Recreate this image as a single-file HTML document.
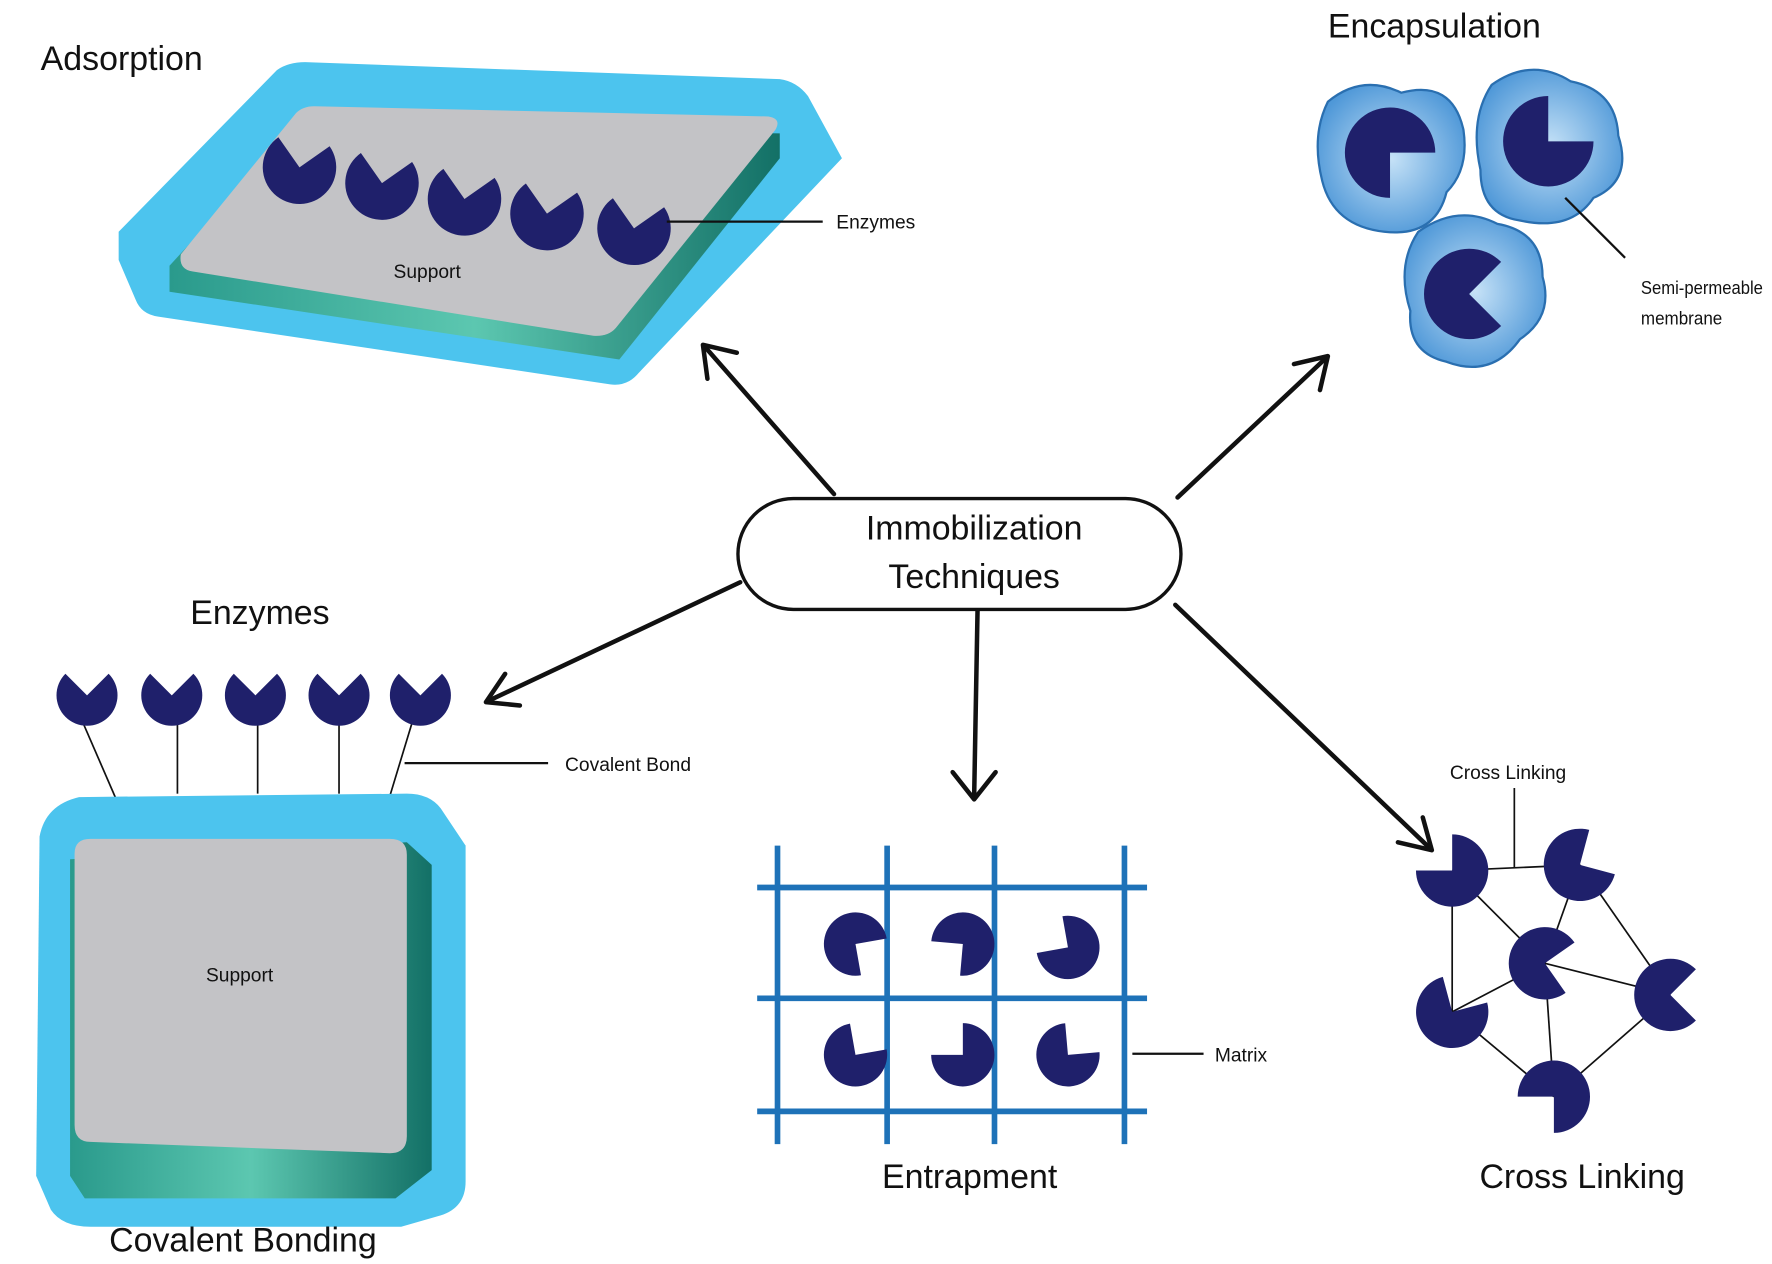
<!DOCTYPE html>
<html><head><meta charset="utf-8"><style>
html,body{margin:0;padding:0;background:#fff;}
svg{display:block;}
text{font-family:"Liberation Sans",sans-serif;fill:#111;}
.big{font-size:30px;}
.sm{font-size:17px;}
</style></head><body>
<svg width="1772" height="1264" viewBox="0 0 1568 1118" preserveAspectRatio="none" xmlns="http://www.w3.org/2000/svg">
<defs>
<path id="pac" d="M0,0 L17.7,-17.7 A25,25 0 1,1 -17.7,-17.7Z" fill="#1f206b"/>
<radialGradient id="blob" cx="0.5" cy="0.5" r="0.55"><stop offset="0" stop-color="#c6e2f7"/><stop offset="1" stop-color="#4f98d8"/></radialGradient>
<linearGradient id="side" x1="0" y1="0" x2="1" y2="0"><stop offset="0" stop-color="#2a9a8c"/><stop offset="0.5" stop-color="#5cc7b0"/><stop offset="1" stop-color="#137066"/></linearGradient>
</defs>

<!-- Adsorption -->
<text class="big" x="36" y="62">Adsorption</text>
<path d="M105,205 L245,62 Q255,55 270,55 L690,70 Q705,72 715,85 L745,140 L565,330 Q555,342 540,340 L140,280 Q125,278 120,265 L105,230Z" fill="#4cc4ee"/>
<path d="M150,235 L265,110 L690,118 L690,140 L548,318 L150,258Z" fill="url(#side)"/>
<path d="M160,225 L262,100 Q268,94 278,94 L680,103 Q692,105 686,115 L545,290 Q538,298 525,297 L170,240 Q158,238 160,225Z" fill="#c3c3c6"/>
<text class="sm" x="378" y="246" text-anchor="middle">Support</text>
<g transform="translate(265,148) rotate(10) scale(1.3)"><use href="#pac"/></g>
<g transform="translate(338,162) rotate(10) scale(1.3)"><use href="#pac"/></g>
<g transform="translate(411,176) rotate(10) scale(1.3)"><use href="#pac"/></g>
<g transform="translate(484,189) rotate(10) scale(1.3)"><use href="#pac"/></g>
<g transform="translate(561,202) rotate(10) scale(1.3)"><use href="#pac"/></g>
<line x1="590" y1="196" x2="728" y2="196" stroke="#111" stroke-width="2"/>
<text class="sm" x="740" y="202">Enzymes</text>

<!-- Encapsulation -->
<text class="big" x="1175" y="33">Encapsulation</text>
<g stroke="#2a6fb0" stroke-width="2" fill="url(#blob)">
<path d="M1175,90 Q1205,65 1240,82 Q1285,70 1295,115 Q1300,150 1280,170 Q1270,210 1225,205 Q1180,200 1170,160 Q1160,120 1175,90Z"/>
<path d="M1320,75 Q1355,50 1390,72 Q1430,80 1432,120 Q1445,160 1410,175 Q1390,205 1345,195 Q1310,190 1310,150 Q1300,105 1320,75Z"/>
<path d="M1255,205 Q1290,180 1325,198 Q1365,205 1365,245 Q1375,280 1345,300 Q1320,335 1280,320 Q1245,312 1248,275 Q1235,235 1255,205Z"/>
</g>
<g transform="translate(1230,135) rotate(135) scale(1.6)"><use href="#pac"/></g>
<g transform="translate(1370,125) rotate(45) scale(1.6)"><use href="#pac"/></g>
<g transform="translate(1300,260) rotate(90) scale(1.6)"><use href="#pac"/></g>
<line x1="1385" y1="175" x2="1438" y2="228" stroke="#111" stroke-width="2"/>
<text x="1452" y="260" font-size="16" textLength="108" lengthAdjust="spacingAndGlyphs">Semi-permeable</text>
<text x="1452" y="287" font-size="16" textLength="72" lengthAdjust="spacingAndGlyphs">membrane</text>

<!-- Center -->
<rect x="653" y="441" width="392" height="98" rx="49" fill="#fff" stroke="#111" stroke-width="3"/>
<text class="big" x="862" y="477" text-anchor="middle">Immobilization</text>
<text class="big" x="862" y="520" text-anchor="middle">Techniques</text>

<!-- Arrows -->
<g stroke="#111" stroke-width="4" fill="none" stroke-linecap="round" stroke-linejoin="round">
<line x1="738" y1="437" x2="624" y2="307"/>
<polyline points="626,335 622,305 652,312"/>
<line x1="1042" y1="440" x2="1173" y2="317"/>
<polyline points="1145,322 1175,315 1168,345"/>
<line x1="655" y1="515" x2="432" y2="620"/>
<polyline points="447,596 430,621 460,624"/>
<line x1="865" y1="540" x2="862" y2="705"/>
<polyline points="843,683 862,707 881,683"/>
<line x1="1040" y1="535" x2="1265" y2="750"/>
<polyline points="1237,745 1267,752 1259,723"/>
</g>

<!-- Covalent bonding -->
<text class="big" x="230" y="552" text-anchor="middle">Enzymes</text>
<g stroke="#111" stroke-width="1.5">
<line x1="72" y1="636" x2="105" y2="712"/>
<line x1="157" y1="640" x2="157" y2="702"/>
<line x1="228" y1="640" x2="228" y2="702"/>
<line x1="300" y1="640" x2="300" y2="702"/>
<line x1="365" y1="638" x2="345" y2="704"/>
</g>
<g transform="translate(77,615) scale(1.08)"><use href="#pac"/></g>
<g transform="translate(152,615) scale(1.08)"><use href="#pac"/></g>
<g transform="translate(226,615) scale(1.08)"><use href="#pac"/></g>
<g transform="translate(300,615) scale(1.08)"><use href="#pac"/></g>
<g transform="translate(372,615) scale(1.08)"><use href="#pac"/></g>
<line x1="358" y1="675" x2="485" y2="675" stroke="#111" stroke-width="2"/>
<text class="sm" x="500" y="682">Covalent Bond</text>
<path d="M35,740 Q40,712 70,705 L360,702 Q380,702 390,715 L412,748 L412,1045 Q412,1068 390,1075 L355,1085 L80,1085 Q55,1085 45,1070 L32,1040Z" fill="#4cc4ee"/>
<path d="M62,760 L360,745 L382,765 L382,1035 L350,1060 L75,1060 L62,1040Z" fill="url(#side)"/>
<path d="M66,755 Q66,742 80,742 L345,742 Q360,742 360,756 L360,1005 Q360,1020 345,1020 L80,1010 Q66,1010 66,995Z" fill="#c3c3c6"/>
<text class="sm" x="212" y="868" text-anchor="middle">Support</text>
<text class="big" x="215" y="1107" text-anchor="middle">Covalent Bonding</text>

<!-- Entrapment -->
<g stroke="#1e72b8" stroke-width="5">
<line x1="688" y1="748" x2="688" y2="1012"/>
<line x1="785" y1="748" x2="785" y2="1012"/>
<line x1="880" y1="748" x2="880" y2="1012"/>
<line x1="995" y1="748" x2="995" y2="1012"/>
<line x1="670" y1="785" x2="1015" y2="785"/>
<line x1="670" y1="883" x2="1015" y2="883"/>
<line x1="670" y1="983" x2="1015" y2="983"/>
</g>
<g transform="translate(757,835) rotate(125) scale(1.12)"><use href="#pac"/></g>
<g transform="translate(852,835) rotate(230) scale(1.12)"><use href="#pac"/></g>
<g transform="translate(945,838) rotate(305) scale(1.12)"><use href="#pac"/></g>
<g transform="translate(757,933) rotate(35) scale(1.12)"><use href="#pac"/></g>
<g transform="translate(852,933) rotate(315) scale(1.12)"><use href="#pac"/></g>
<g transform="translate(945,933) rotate(40) scale(1.12)"><use href="#pac"/></g>
<line x1="1002" y1="932" x2="1065" y2="932" stroke="#111" stroke-width="2"/>
<text class="sm" x="1075" y="939">Matrix</text>
<text class="big" x="858" y="1051" text-anchor="middle">Entrapment</text>

<!-- Cross linking -->
<g stroke="#111" stroke-width="1.5">
<line x1="1285" y1="770" x2="1398" y2="765"/>
<line x1="1285" y1="770" x2="1285" y2="895"/>
<line x1="1285" y1="770" x2="1367" y2="852"/>
<line x1="1398" y1="765" x2="1367" y2="852"/>
<line x1="1398" y1="765" x2="1478" y2="880"/>
<line x1="1367" y1="852" x2="1285" y2="895"/>
<line x1="1367" y1="852" x2="1478" y2="880"/>
<line x1="1285" y1="895" x2="1375" y2="970"/>
<line x1="1478" y1="880" x2="1375" y2="970"/>
<line x1="1367" y1="852" x2="1375" y2="970"/>
<line x1="1340" y1="697" x2="1340" y2="768"/>
</g>
<g transform="translate(1285,770) rotate(315) scale(1.28)"><use href="#pac"/></g>
<g transform="translate(1398,765) rotate(60) scale(1.28)"><use href="#pac"/></g>
<g transform="translate(1367,852) rotate(100) scale(1.28)"><use href="#pac"/></g>
<g transform="translate(1285,895) rotate(30) scale(1.28)"><use href="#pac"/></g>
<g transform="translate(1478,880) rotate(90) scale(1.28)"><use href="#pac"/></g>
<g transform="translate(1375,970) rotate(225) scale(1.28)"><use href="#pac"/></g>
<text class="sm" x="1283" y="689">Cross Linking</text>
<text class="big" x="1400" y="1051" text-anchor="middle">Cross Linking</text>
</svg>
</body></html>
